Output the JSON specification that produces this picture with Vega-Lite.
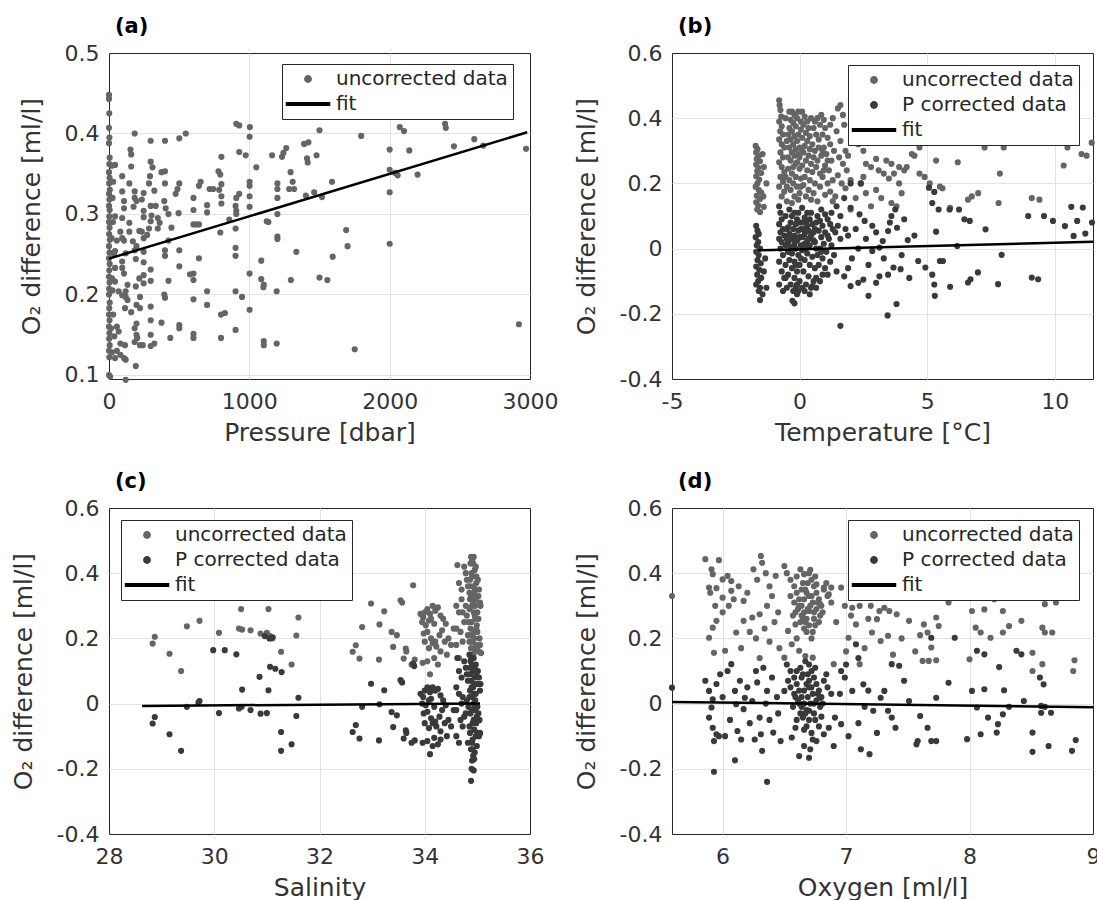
{
"$schema": "https://vega.github.io/schema/vega-lite/v6.json",
"padding": {"left": 10, "top": 15, "right": 0, "bottom": 0},
"config": {
 "font": "DejaVu Sans",
 "locale": {"number": {"decimal": ".", "thousands": "", "grouping": [3], "currency": ["", ""], "minus": "-"}},
 "view": {"stroke": "#262626", "strokeWidth": 1},
 "axis": {"labelFont": "DejaVu Sans", "labelFontSize": 22, "labelColor": "#333333", "titleFont": "DejaVu Sans", "titleFontSize": 25, "titleFontWeight": "normal", "titleColor": "#333333", "domain": false, "ticks": false, "grid": true, "gridWidth": 1, "labelPadding": 10, "labelFlush": false, "labelOverlap": false},
 "axisX": {"titlePadding": 8, "labelPadding": 12},
 "axisY": {"titlePadding": 20},
 "title": {"anchor": "start", "frame": "group", "font": "DejaVu Sans", "fontSize": 21, "fontWeight": "bold", "color": "#000000", "dx": 6, "offset": 5},
 "legend": {"orient": "none", "strokeColor": "#262626", "fillColor": "#ffffff", "padding": 5, "labelFont": "DejaVu Sans", "labelFontSize": 20, "labelColor": "#262626", "labelLimit": 0, "symbolSize": 40, "symbolOffset": 11, "labelOffset": 18, "rowPadding": 5, "cornerRadius": 0}
},
"resolve": {"scale": {"color": "independent", "shape": "independent"}, "legend": {"color": "independent", "shape": "independent"}},
"datasets": {
"a_u": [{"x":0,"y":0.448},{"x":0,"y":0.443},{"x":2,"y":0.425},{"x":0,"y":0.407},{"x":3,"y":0.395},{"x":0,"y":0.388},{"x":5,"y":0.37},{"x":2,"y":0.362},{"x":0,"y":0.352},{"x":4,"y":0.345},{"x":1,"y":0.338},{"x":6,"y":0.33},{"x":0,"y":0.325},{"x":3,"y":0.318},{"x":0,"y":0.31},{"x":5,"y":0.305},{"x":2,"y":0.297},{"x":0,"y":0.29},{"x":4,"y":0.283},{"x":1,"y":0.275},{"x":6,"y":0.268},{"x":0,"y":0.26},{"x":3,"y":0.252},{"x":0,"y":0.245},{"x":5,"y":0.238},{"x":2,"y":0.23},{"x":0,"y":0.222},{"x":4,"y":0.215},{"x":1,"y":0.207},{"x":0,"y":0.2},{"x":5,"y":0.19},{"x":2,"y":0.183},{"x":0,"y":0.175},{"x":4,"y":0.168},{"x":0,"y":0.16},{"x":3,"y":0.152},{"x":1,"y":0.145},{"x":5,"y":0.137},{"x":0,"y":0.13},{"x":2,"y":0.122},{"x":0,"y":0.1},{"x":8,"y":0.098},{"x":20,"y":0.36},{"x":25,"y":0.32},{"x":18,"y":0.27},{"x":22,"y":0.22},{"x":15,"y":0.158},{"x":20,"y":0.128},{"x":30,"y":0.34},{"x":28,"y":0.29},{"x":35,"y":0.25},{"x":25,"y":0.205},{"x":30,"y":0.175},
{"x":183,"y":0.4},{"x":297,"y":0.391},{"x":399,"y":0.391},{"x":501,"y":0.394},{"x":547,"y":0.4},{"x":907,"y":0.412},{"x":928,"y":0.41},{"x":1004,"y":0.408},{"x":1002,"y":0.396},{"x":1500,"y":0.404},{"x":1797,"y":0.397},{"x":2072,"y":0.408},{"x":2102,"y":0.403},{"x":2395,"y":0.412},{"x":2400,"y":0.407},{"x":2603,"y":0.393},{"x":2972,"y":0.381},{"x":2667,"y":0.385},{"x":2458,"y":0.384},{"x":2140,"y":0.379},{"x":2000,"y":0.38},{"x":2000,"y":0.355},{"x":2039,"y":0.351},{"x":2057,"y":0.348},{"x":2199,"y":0.349},{"x":2000,"y":0.327},{"x":2000,"y":0.263},{"x":2921,"y":0.163},{"x":1751,"y":0.132},{"x":1690,"y":0.28},{"x":1700,"y":0.26},{"x":1594,"y":0.247},{"x":1500,"y":0.221},{"x":1556,"y":0.218},{"x":1589,"y":0.34},{"x":1518,"y":0.321},{"x":1462,"y":0.327},{"x":1403,"y":0.323},{"x":1411,"y":0.369},{"x":1416,"y":0.364},{"x":1479,"y":0.373},{"x":1390,"y":0.387},{"x":1421,"y":0.389},{"x":1263,"y":0.382},{"x":1243,"y":0.376},{"x":1233,"y":0.371},{"x":1162,"y":0.373},{"x":1294,"y":0.352},{"x":1309,"y":0.34},{"x":1284,"y":0.331},{"x":1319,"y":0.331},{"x":1200,"y":0.338},{"x":1200,"y":0.331},{"x":1200,"y":0.32},{"x":1200,"y":0.3},{"x":1200,"y":0.272},{"x":1200,"y":0.269},{"x":1335,"y":0.253},{"x":1296,"y":0.218},{"x":1195,"y":0.204},{"x":1195,"y":0.139},{"x":1103,"y":0.142},{"x":1103,"y":0.137},{"x":1085,"y":0.242},{"x":1085,"y":0.219},{"x":1103,"y":0.212},{"x":1100,"y":0.209},{"x":1124,"y":0.291},{"x":1136,"y":0.29},{"x":1050,"y":0.358},{"x":1002,"y":0.34},{"x":1002,"y":0.335},{"x":1002,"y":0.322},{"x":1002,"y":0.309},{"x":1002,"y":0.226},{"x":1002,"y":0.181},{"x":948,"y":0.197},{"x":902,"y":0.204},{"x":902,"y":0.156},{"x":902,"y":0.258},{"x":902,"y":0.248},{"x":902,"y":0.282},{"x":928,"y":0.325},{"x":907,"y":0.32},{"x":902,"y":0.31},{"x":907,"y":0.304},{"x":907,"y":0.3},{"x":928,"y":0.377},{"x":974,"y":0.373},{"x":857,"y":0.293},{"x":801,"y":0.371},{"x":780,"y":0.353},{"x":793,"y":0.349},{"x":801,"y":0.337},{"x":785,"y":0.33},{"x":801,"y":0.322},{"x":801,"y":0.313},{"x":793,"y":0.277},{"x":798,"y":0.175},{"x":826,"y":0.177},{"x":798,"y":0.146},{"x":742,"y":0.331},{"x":717,"y":0.331},{"x":699,"y":0.311},{"x":699,"y":0.302},{"x":653,"y":0.34},{"x":641,"y":0.335},{"x":641,"y":0.287},{"x":623,"y":0.287},{"x":641,"y":0.245},{"x":699,"y":0.204},{"x":699,"y":0.187},{"x":602,"y":0.32},{"x":602,"y":0.305},{"x":602,"y":0.287},{"x":602,"y":0.226},{"x":602,"y":0.218},{"x":602,"y":0.194},{"x":602,"y":0.151},{"x":602,"y":0.146},{"x":577,"y":0.225},{"x":501,"y":0.338},{"x":488,"y":0.331},{"x":475,"y":0.325},{"x":496,"y":0.301},{"x":501,"y":0.255},{"x":501,"y":0.235},{"x":501,"y":0.162},{"x":501,"y":0.158},{"x":437,"y":0.146},{"x":445,"y":0.283},{"x":424,"y":0.3},{"x":399,"y":0.338},{"x":399,"y":0.353},{"x":374,"y":0.352},{"x":394,"y":0.316},{"x":404,"y":0.307},{"x":361,"y":0.289},{"x":348,"y":0.282},{"x":424,"y":0.267},{"x":399,"y":0.255},{"x":399,"y":0.248},{"x":424,"y":0.217},{"x":394,"y":0.2},{"x":399,"y":0.196},{"x":374,"y":0.165},{"x":348,"y":0.295},{"x":323,"y":0.329},{"x":333,"y":0.31},{"x":297,"y":0.31},{"x":297,"y":0.365},{"x":310,"y":0.358},{"x":292,"y":0.347},{"x":285,"y":0.338},{"x":303,"y":0.298},{"x":297,"y":0.291},{"x":285,"y":0.282},{"x":272,"y":0.274},{"x":297,"y":0.231},{"x":297,"y":0.217},{"x":297,"y":0.185},{"x":297,"y":0.168},{"x":297,"y":0.15},{"x":297,"y":0.136},{"x":323,"y":0.139},{"x":247,"y":0.304},{"x":247,"y":0.296},{"x":234,"y":0.278},{"x":247,"y":0.27},{"x":216,"y":0.279},{"x":196,"y":0.26},{"x":170,"y":0.266},{"x":183,"y":0.255},{"x":191,"y":0.244},{"x":247,"y":0.253},{"x":247,"y":0.24},{"x":247,"y":0.224},{"x":247,"y":0.214},{"x":216,"y":0.22},{"x":191,"y":0.21},{"x":221,"y":0.197},{"x":196,"y":0.187},{"x":221,"y":0.183},{"x":158,"y":0.178},{"x":132,"y":0.193},{"x":119,"y":0.197},{"x":119,"y":0.204},{"x":114,"y":0.183},{"x":196,"y":0.164},{"x":183,"y":0.158},{"x":196,"y":0.15},{"x":201,"y":0.146},{"x":183,"y":0.141},{"x":221,"y":0.137},{"x":241,"y":0.137},{"x":191,"y":0.111},{"x":119,"y":0.119},{"x":107,"y":0.121},{"x":81,"y":0.125},{"x":56,"y":0.13},{"x":81,"y":0.139},{"x":114,"y":0.137},{"x":43,"y":0.121},{"x":119,"y":0.094},{"x":158,"y":0.374},{"x":158,"y":0.359},{"x":153,"y":0.38},{"x":94,"y":0.347},{"x":43,"y":0.361},{"x":107,"y":0.316},{"x":94,"y":0.328},{"x":107,"y":0.307},{"x":43,"y":0.297},{"x":94,"y":0.295},{"x":81,"y":0.278},{"x":94,"y":0.27},{"x":56,"y":0.267},{"x":107,"y":0.267},{"x":43,"y":0.254},{"x":119,"y":0.251},{"x":94,"y":0.241},{"x":94,"y":0.233},{"x":107,"y":0.226},{"x":132,"y":0.212},{"x":69,"y":0.204},{"x":94,"y":0.199},{"x":43,"y":0.233},{"x":43,"y":0.216},{"x":56,"y":0.16},{"x":69,"y":0.154},{"x":38,"y":0.148},{"x":145,"y":0.338},{"x":183,"y":0.328},{"x":183,"y":0.32},{"x":175,"y":0.309},{"x":145,"y":0.289},{"x":145,"y":0.278},{"x":196,"y":0.316},{"x":234,"y":0.318},{"x":247,"y":0.326}],
"a_f": [{"x":0,"y":0.2445},{"x":2980,"y":0.4015}],
"b_u": [{"x":-1.72,"y":0.315},{"x":-1.65,"y":0.305},{"x":-1.7,"y":0.295},{"x":-1.6,"y":0.285},{"x":-1.68,"y":0.275},{"x":-1.55,"y":0.268},{"x":-1.7,"y":0.258},{"x":-1.62,"y":0.248},{"x":-1.66,"y":0.238},{"x":-1.5,"y":0.232},{"x":-1.7,"y":0.222},{"x":-1.58,"y":0.212},{"x":-1.65,"y":0.2},{"x":-1.72,"y":0.19},{"x":-1.6,"y":0.18},{"x":-1.5,"y":0.172},{"x":-1.68,"y":0.162},{"x":-1.55,"y":0.152},{"x":-1.7,"y":0.142},{"x":-1.62,"y":0.132},{"x":-1.4,"y":0.128},{"x":-1.66,"y":0.12},{"x":-1.55,"y":0.112},{"x":-1.45,"y":0.29},{"x":-1.4,"y":0.25},{"x":-1.42,"y":0.16},{"x":-1.3,"y":0.2},
{"x":-0.8,"y":0.455},{"x":-0.78,"y":0.44},{"x":-0.75,"y":0.425},{"x":-0.72,"y":0.405},{"x":-0.8,"y":0.39},{"x":-0.7,"y":0.375},{"x":-0.76,"y":0.36},{"x":-0.65,"y":0.35},{"x":-0.8,"y":0.335},{"x":-0.7,"y":0.32},{"x":-0.6,"y":0.31},{"x":-0.75,"y":0.295},{"x":-0.65,"y":0.28},{"x":-0.8,"y":0.265},{"x":-0.7,"y":0.25},{"x":-0.6,"y":0.235},{"x":-0.75,"y":0.22},{"x":-0.65,"y":0.205},{"x":-0.8,"y":0.19},{"x":-0.6,"y":0.175},{"x":-0.7,"y":0.16},{"x":-0.5,"y":0.145},
{"x":-0.3,"y":0.42},{"x":-0.2,"y":0.41},{"x":-0.35,"y":0.395},{"x":-0.1,"y":0.4},{"x":-0.25,"y":0.385},{"x":-0.4,"y":0.37},{"x":-0.15,"y":0.375},{"x":-0.3,"y":0.36},{"x":-0.45,"y":0.35},{"x":-0.2,"y":0.345},{"x":-0.05,"y":0.35},{"x":-0.35,"y":0.335},{"x":-0.1,"y":0.33},{"x":-0.25,"y":0.32},{"x":-0.4,"y":0.31},{"x":-0.15,"y":0.305},{"x":0,"y":0.31},{"x":-0.3,"y":0.295},{"x":-0.2,"y":0.285},{"x":-0.05,"y":0.29},{"x":-0.35,"y":0.27},{"x":-0.1,"y":0.265},{"x":-0.25,"y":0.25},{"x":-0.45,"y":0.245},{"x":0,"y":0.245},{"x":-0.3,"y":0.23},{"x":-0.15,"y":0.22},{"x":-0.4,"y":0.21},{"x":0.05,"y":0.215},{"x":-0.25,"y":0.2},{"x":-0.1,"y":0.19},{"x":-0.35,"y":0.18},{"x":0,"y":0.17},{"x":-0.2,"y":0.16},{"x":-0.05,"y":0.15},{"x":-0.3,"y":0.14},
{"x":0.1,"y":0.42},{"x":0.2,"y":0.405},{"x":0.3,"y":0.39},{"x":0.15,"y":0.38},{"x":0.35,"y":0.37},{"x":0.05,"y":0.365},{"x":0.25,"y":0.355},{"x":0.4,"y":0.345},{"x":0.1,"y":0.34},{"x":0.3,"y":0.33},{"x":0.5,"y":0.32},{"x":0.2,"y":0.315},{"x":0.4,"y":0.305},{"x":0.6,"y":0.3},{"x":0.15,"y":0.295},{"x":0.35,"y":0.285},{"x":0.55,"y":0.28},{"x":0.25,"y":0.27},{"x":0.45,"y":0.26},{"x":0.7,"y":0.27},{"x":0.1,"y":0.255},{"x":0.3,"y":0.24},{"x":0.5,"y":0.235},{"x":0.2,"y":0.22},{"x":0.4,"y":0.21},{"x":0.6,"y":0.2},{"x":0.15,"y":0.195},{"x":0.35,"y":0.18},{"x":0.55,"y":0.17},{"x":0.25,"y":0.16},{"x":0.45,"y":0.15},{"x":0.7,"y":0.145},
{"x":0.7,"y":0.4},{"x":0.85,"y":0.41},{"x":0.95,"y":0.395},{"x":0.8,"y":0.38},{"x":1,"y":0.37},{"x":0.9,"y":0.35},{"x":1.1,"y":0.34},{"x":0.75,"y":0.335},{"x":1.2,"y":0.32},{"x":0.95,"y":0.31},{"x":1.05,"y":0.29},{"x":0.85,"y":0.285},{"x":1.25,"y":0.27},{"x":1,"y":0.255},{"x":1.15,"y":0.24},{"x":0.9,"y":0.22},{"x":1.3,"y":0.21},{"x":1.1,"y":0.2},{"x":0.8,"y":0.19},{"x":1.2,"y":0.175},{"x":1,"y":0.165},{"x":1.4,"y":0.16},{"x":1.3,"y":0.145},{"x":1.5,"y":0.43},{"x":1.6,"y":0.44},{"x":1.7,"y":0.41},{"x":1.75,"y":0.38},{"x":1.45,"y":0.36},{"x":1.6,"y":0.33},{"x":1.8,"y":0.3},{"x":1.9,"y":0.285},{"x":1.55,"y":0.28},{"x":1.7,"y":0.26},{"x":1.85,"y":0.24},{"x":1.5,"y":0.225},{"x":2,"y":0.21},{"x":1.65,"y":0.2},{"x":1.8,"y":0.185},
{"x":-0.55,"y":0.4},{"x":-0.5,"y":0.33},{"x":-0.45,"y":0.28},{"x":-0.55,"y":0.22},{"x":-0.4,"y":0.42},{"x":-0.05,"y":0.42},{"x":0.05,"y":0.39},{"x":0.45,"y":0.4},{"x":0.55,"y":0.37},{"x":0.65,"y":0.35},{"x":0.6,"y":0.39},{"x":0.75,"y":0.31},{"x":0.9,"y":0.3},{"x":1.1,"y":0.27},{"x":0.65,"y":0.25},{"x":0.8,"y":0.23},{"x":0.95,"y":0.24},{"x":-0.15,"y":0.26},{"x":0,"y":0.28},{"x":0.1,"y":0.3},{"x":-0.5,"y":0.19},{"x":0.05,"y":0.19},{"x":1.2,"y":0.38},{"x":1.3,"y":0.4},{"x":1.35,"y":0.3},
{"x":2.1,"y":0.34},{"x":2.3,"y":0.32},{"x":2.5,"y":0.3},{"x":2.6,"y":0.26},{"x":2.8,"y":0.25},{"x":3,"y":0.275},{"x":3.1,"y":0.24},{"x":3.3,"y":0.23},{"x":3.5,"y":0.215},{"x":3.7,"y":0.23},{"x":3.4,"y":0.27},{"x":3.6,"y":0.26},{"x":3.9,"y":0.25},{"x":4.1,"y":0.24},{"x":4.2,"y":0.25},{"x":4.4,"y":0.29},{"x":4.5,"y":0.285},{"x":4.7,"y":0.31},{"x":4.7,"y":0.23},{"x":4.9,"y":0.22},{"x":5.1,"y":0.2},{"x":5.35,"y":0.27},{"x":5.5,"y":0.19},{"x":5.6,"y":0.185},{"x":2.4,"y":0.2},{"x":2.6,"y":0.17},{"x":2.2,"y":0.155},{"x":3,"y":0.18},{"x":3.2,"y":0.155},{"x":3.6,"y":0.14},{"x":3.8,"y":0.13},{"x":4,"y":0.17},{"x":2.8,"y":0.13},{"x":2,"y":0.12},{"x":2.5,"y":0.22},{"x":3.9,"y":0.2},
{"x":5.9,"y":0.125},{"x":6.2,"y":0.265},{"x":6.6,"y":0.15},{"x":6.75,"y":0.16},{"x":7,"y":0.17},{"x":7.25,"y":0.31},{"x":7.8,"y":0.14},{"x":7.85,"y":0.23},{"x":9.1,"y":0.155},{"x":9.4,"y":0.15},{"x":10.35,"y":0.255},{"x":10.5,"y":0.31},{"x":10.75,"y":0.34},{"x":11.05,"y":0.29},{"x":11.25,"y":0.285},{"x":11.45,"y":0.325},{"x":8.5,"y":0.33},{"x":9,"y":0.36},{"x":8,"y":0.31},{"x":6,"y":0.33}],
"b_c": [{"x":-1.7,"y":0.07},{"x":-1.65,"y":0.055},{"x":-1.6,"y":0.045},{"x":-1.72,"y":0.035},{"x":-1.62,"y":0.02},{"x":-1.68,"y":0.01},{"x":-1.55,"y":0},{"x":-1.7,"y":-0.01},{"x":-1.6,"y":-0.02},{"x":-1.65,"y":-0.035},{"x":-1.52,"y":-0.045},{"x":-1.7,"y":-0.055},{"x":-1.58,"y":-0.065},{"x":-1.66,"y":-0.08},{"x":-1.5,"y":-0.09},{"x":-1.62,"y":-0.1},{"x":-1.7,"y":-0.11},{"x":-1.55,"y":-0.12},{"x":-1.6,"y":-0.13},{"x":-1.45,"y":-0.14},{"x":-1.55,"y":-0.158},{"x":-1.4,"y":-0.07},{"x":-1.35,"y":-0.03},{"x":-1.3,"y":-0.12},
{"x":-0.8,"y":0.13},{"x":-0.75,"y":0.11},{"x":-0.7,"y":0.09},{"x":-0.8,"y":0.075},{"x":-0.65,"y":0.06},{"x":-0.75,"y":0.05},{"x":-0.6,"y":0.04},{"x":-0.8,"y":0.03},{"x":-0.7,"y":0.02},{"x":-0.55,"y":0.01},{"x":-0.75,"y":0},{"x":-0.65,"y":-0.02},{"x":-0.8,"y":-0.04},{"x":-0.55,"y":-0.05},{"x":-0.7,"y":-0.07},{"x":-0.6,"y":-0.09},{"x":-0.8,"y":-0.11},{"x":-0.5,"y":-0.12},{"x":-0.65,"y":-0.13},
{"x":-0.4,"y":0.12},{"x":-0.3,"y":0.1},{"x":-0.2,"y":0.11},{"x":-0.1,"y":0.09},{"x":-0.35,"y":0.08},{"x":-0.15,"y":0.075},{"x":0,"y":0.08},{"x":-0.45,"y":0.065},{"x":-0.25,"y":0.06},{"x":-0.05,"y":0.055},{"x":-0.4,"y":0.045},{"x":-0.2,"y":0.04},{"x":0,"y":0.035},{"x":-0.3,"y":0.03},{"x":-0.1,"y":0.025},{"x":-0.45,"y":0.02},{"x":-0.2,"y":0.015},{"x":0.05,"y":0.01},{"x":-0.35,"y":0.005},{"x":-0.15,"y":0},{"x":-0.3,"y":-0.015},{"x":-0.05,"y":-0.02},{"x":-0.4,"y":-0.035},{"x":-0.2,"y":-0.04},{"x":0,"y":-0.05},{"x":-0.3,"y":-0.06},{"x":-0.1,"y":-0.07},{"x":-0.45,"y":-0.08},{"x":-0.2,"y":-0.09},{"x":0,"y":-0.1},{"x":-0.35,"y":-0.11},{"x":-0.15,"y":-0.12},{"x":-0.25,"y":-0.13},{"x":-0.1,"y":-0.14},{"x":-0.28,"y":-0.16},{"x":-0.2,"y":-0.168},
{"x":0.1,"y":0.125},{"x":0.3,"y":0.11},{"x":0.2,"y":0.095},{"x":0.4,"y":0.09},{"x":0.1,"y":0.08},{"x":0.3,"y":0.07},{"x":0.5,"y":0.075},{"x":0.15,"y":0.06},{"x":0.35,"y":0.055},{"x":0.6,"y":0.06},{"x":0.2,"y":0.045},{"x":0.45,"y":0.04},{"x":0.1,"y":0.035},{"x":0.3,"y":0.025},{"x":0.55,"y":0.025},{"x":0.2,"y":0.015},{"x":0.4,"y":0.01},{"x":0.65,"y":0},{"x":0.1,"y":-0.005},{"x":0.3,"y":-0.015},{"x":0.5,"y":-0.025},{"x":0.2,"y":-0.035},{"x":0.4,"y":-0.05},{"x":0.6,"y":-0.06},{"x":0.15,"y":-0.07},{"x":0.35,"y":-0.085},{"x":0.55,"y":-0.1},{"x":0.25,"y":-0.11},{"x":0.45,"y":-0.12},{"x":0.2,"y":-0.13},{"x":0.5,"y":-0.115},
{"x":0.7,"y":0.1},{"x":0.85,"y":0.12},{"x":1,"y":0.105},{"x":0.8,"y":0.085},{"x":1.1,"y":0.09},{"x":0.9,"y":0.07},{"x":1.2,"y":0.075},{"x":0.75,"y":0.055},{"x":1,"y":0.05},{"x":1.3,"y":0.06},{"x":0.85,"y":0.035},{"x":1.15,"y":0.03},{"x":0.95,"y":0.015},{"x":1.25,"y":0.01},{"x":0.8,"y":0},{"x":1.05,"y":-0.01},{"x":1.35,"y":-0.02},{"x":0.9,"y":-0.03},{"x":1.2,"y":-0.04},{"x":0.75,"y":-0.05},{"x":1,"y":-0.06},{"x":0.9,"y":-0.08},{"x":0.65,"y":-0.09},{"x":-0.05,"y":-0.13},
{"x":-0.55,"y":0.1},{"x":-0.5,"y":0.06},{"x":-0.45,"y":-0.01},{"x":-0.55,"y":-0.09},{"x":-0.5,"y":0.03},{"x":-0.05,"y":0.11},{"x":0.05,"y":0.06},{"x":0.25,"y":0.08},{"x":0.45,"y":0.11},{"x":0.55,"y":0.05},{"x":0.65,"y":0.08},{"x":0.6,"y":0.02},{"x":0.7,"y":-0.02},{"x":0.85,"y":-0.01},{"x":1.1,"y":0.04},{"x":0.65,"y":-0.12},{"x":0.8,"y":-0.1},{"x":1.1,"y":-0.08},{"x":-0.15,"y":-0.05},{"x":0.05,"y":-0.03},{"x":0.25,"y":0},{"x":0.35,"y":0.03},{"x":-0.1,"y":-0.11},{"x":0.1,"y":-0.12},{"x":0.4,"y":-0.14},{"x":1.25,"y":0.11},{"x":1.4,"y":0.05},
{"x":1.45,"y":0.13},{"x":1.6,"y":0.1},{"x":1.75,"y":0.155},{"x":1.5,"y":0.07},{"x":1.8,"y":0.06},{"x":2,"y":0.125},{"x":1.9,"y":0.04},{"x":1.6,"y":0.03},{"x":1.45,"y":-0.07},{"x":1.75,"y":-0.085},{"x":1.9,"y":-0.06},{"x":2,"y":-0.115},{"x":2.05,"y":-0.03},{"x":1.6,"y":-0.237},{"x":2,"y":0.2},{"x":2.4,"y":0.2},
{"x":2.3,"y":0},{"x":2.35,"y":0.105},{"x":2.55,"y":0.085},{"x":2.85,"y":0.07},{"x":2.85,"y":-0.007},{"x":2.3,"y":-0.105},{"x":2.5,"y":-0.095},{"x":2.7,"y":-0.145},{"x":3,"y":-0.105},{"x":3.13,"y":-0.085},{"x":3.13,"y":0.003},{"x":3.26,"y":0.023},{"x":3.47,"y":0.054},{"x":3.54,"y":0.08},{"x":3.82,"y":0.064},{"x":3.75,"y":0.12},{"x":3.45,"y":-0.205},{"x":3.8,"y":-0.17},{"x":3.47,"y":-0.08},{"x":3.68,"y":-0.058},{"x":3.96,"y":-0.063},{"x":4.24,"y":0.026},{"x":4.5,"y":0.04},{"x":4.65,"y":-0.038},{"x":4.93,"y":-0.058},{"x":5.2,"y":-0.08},{"x":5.28,"y":-0.11},{"x":5.3,"y":-0.145},{"x":5.5,"y":-0.038},{"x":5.62,"y":-0.038},{"x":5.35,"y":0.052},{"x":5.45,"y":0.12},{"x":5.2,"y":0.14},{"x":5.07,"y":0.187},{"x":5.28,"y":0.174},{"x":2.6,"y":0.03},{"x":3,"y":0.05},{"x":2.2,"y":0.06},{"x":4,"y":-0.02},{"x":3.3,"y":-0.03},{"x":2.7,"y":-0.05},{"x":4.3,"y":-0.09},{"x":4.1,"y":0.09},{"x":3.6,"y":0.1},
{"x":5.9,"y":-0.117},{"x":5.88,"y":0.12},{"x":6.18,"y":0.008},{"x":6.46,"y":0.09},{"x":6.67,"y":0.085},{"x":6.6,"y":-0.104},{"x":6.7,"y":-0.094},{"x":6.99,"y":-0.073},{"x":7.29,"y":0.059},{"x":7.78,"y":-0.109},{"x":7.92,"y":-0.019},{"x":8.96,"y":0.1},{"x":9.1,"y":-0.089},{"x":9.35,"y":-0.094},{"x":9.58,"y":0.1},{"x":9.93,"y":0.085},{"x":10.4,"y":0.069},{"x":10.65,"y":0.128},{"x":10.74,"y":0.039},{"x":10.88,"y":0.085},{"x":11.1,"y":0.126},{"x":11.2,"y":0.046},{"x":11.46,"y":0.08},{"x":6.25,"y":0.12}],
"b_f": [{"x":-1.62,"y":-0.005},{"x":11.5,"y":0.021}],
"c_u": [{"x":28.83,"y":0.184},{"x":28.87,"y":0.205},{"x":29.15,"y":0.153},{"x":29.37,"y":0.1},{"x":29.48,"y":0.237},{"x":29.72,"y":0.254},{"x":30.09,"y":0.217},{"x":30.51,"y":0.29},{"x":30.47,"y":0.23},{"x":30.53,"y":0.227},{"x":30.69,"y":0.225},{"x":30.88,"y":0.215},{"x":31,"y":0.217},{"x":31.03,"y":0.29},{"x":31.05,"y":0.208},{"x":31.27,"y":0.159},{"x":31.47,"y":0.12},{"x":31.56,"y":0.209},{"x":31.6,"y":0.264},{"x":31.1,"y":0.2},
{"x":32.63,"y":0.159},{"x":32.69,"y":0.179},{"x":32.76,"y":0.138},{"x":32.81,"y":0.235},{"x":32.98,"y":0.307},{"x":33.13,"y":0.135},{"x":33.14,"y":0.243},{"x":33.23,"y":0.283},{"x":33.37,"y":0.22},{"x":33.47,"y":0.21},{"x":33.4,"y":0.174},{"x":33.54,"y":0.317},{"x":33.57,"y":0.31},{"x":33.6,"y":0.138},{"x":33.64,"y":0.169},{"x":33.65,"y":0.16},{"x":33.78,"y":0.363},{"x":33.81,"y":0.135},{"x":33.75,"y":0.12},
{"x":33.92,"y":0.275},{"x":33.97,"y":0.265},{"x":34,"y":0.28},{"x":34.05,"y":0.29},{"x":34.1,"y":0.275},{"x":34.15,"y":0.3},{"x":34.2,"y":0.285},{"x":34.25,"y":0.295},{"x":34.3,"y":0.27},{"x":33.95,"y":0.25},{"x":34.02,"y":0.24},{"x":34.08,"y":0.255},{"x":34.12,"y":0.26},{"x":34.18,"y":0.245},{"x":34.35,"y":0.26},{"x":34.4,"y":0.245},{"x":33.98,"y":0.215},{"x":34.05,"y":0.22},{"x":34.12,"y":0.2},{"x":34.2,"y":0.19},{"x":34.28,"y":0.21},{"x":34.33,"y":0.225},{"x":34.45,"y":0.2},{"x":34,"y":0.19},{"x":34.08,"y":0.17},{"x":34.15,"y":0.185},{"x":34.22,"y":0.175},{"x":34.3,"y":0.16},{"x":34.38,"y":0.19},{"x":34.05,"y":0.13},{"x":34.1,"y":0.09},{"x":34.18,"y":0.14},{"x":33.96,"y":0.125},{"x":34.25,"y":0.12},{"x":34.42,"y":0.15},{"x":34.5,"y":0.18},{"x":34.55,"y":0.23},
{"x":34.62,"y":0.425},{"x":34.65,"y":0.37},{"x":34.7,"y":0.35},{"x":34.6,"y":0.3},{"x":34.65,"y":0.28},{"x":34.7,"y":0.32},{"x":34.6,"y":0.23},{"x":34.68,"y":0.22},{"x":34.72,"y":0.19},{"x":34.6,"y":0.18},{"x":34.65,"y":0.14},{"x":34.75,"y":0.42},{"x":34.78,"y":0.4},{"x":34.8,"y":0.38},{"x":34.82,"y":0.36},{"x":34.85,"y":0.34},{"x":34.88,"y":0.45},{"x":34.9,"y":0.44},{"x":34.92,"y":0.43},{"x":34.95,"y":0.41},{"x":34.98,"y":0.39},{"x":34.86,"y":0.32},{"x":34.9,"y":0.3},{"x":34.93,"y":0.28},{"x":34.96,"y":0.26},{"x":34.99,"y":0.24},{"x":35.02,"y":0.33},{"x":35.05,"y":0.31},{"x":34.8,"y":0.27},{"x":34.83,"y":0.25},{"x":34.87,"y":0.23},{"x":34.91,"y":0.21},{"x":34.94,"y":0.2},{"x":34.97,"y":0.18},{"x":35,"y":0.22},{"x":35.03,"y":0.16},{"x":34.78,"y":0.3},{"x":34.82,"y":0.21},{"x":34.88,"y":0.17},{"x":34.92,"y":0.15},{"x":34.95,"y":0.35},{"x":34.98,"y":0.37},{"x":34.89,"y":0.4},{"x":34.93,"y":0.36},{"x":34.96,"y":0.3},{"x":35,"y":0.28},{"x":34.85,"y":0.19},{"x":34.75,"y":0.25},{"x":34.72,"y":0.28},{"x":35.04,"y":0.2},{"x":34.86,"y":0.38},{"x":34.91,"y":0.33},
{"x":34.87,"y":0.43},{"x":34.93,"y":0.45},{"x":34.97,"y":0.42},{"x":34.9,"y":0.39},{"x":35.01,"y":0.38},{"x":34.86,"y":0.36},{"x":34.94,"y":0.34},{"x":35.03,"y":0.35},{"x":34.88,"y":0.33},{"x":34.97,"y":0.32},{"x":34.92,"y":0.31},{"x":35.06,"y":0.3},{"x":34.85,"y":0.29},{"x":34.95,"y":0.27},{"x":35.02,"y":0.26},{"x":34.89,"y":0.25},{"x":34.98,"y":0.23},{"x":34.93,"y":0.22},{"x":35.05,"y":0.18},{"x":34.86,"y":0.21},{"x":34.9,"y":0.19},{"x":34.99,"y":0.17},{"x":34.95,"y":0.16},{"x":35.07,"y":0.155}],
"c_c": [{"x":28.83,"y":-0.061},{"x":28.87,"y":-0.041},{"x":29.15,"y":-0.094},{"x":29.37,"y":-0.145},{"x":29.48,"y":-0.01},{"x":29.72,"y":0.008},{"x":29.7,"y":0.003},{"x":29.98,"y":0.164},{"x":30.2,"y":0.164},{"x":30.09,"y":-0.029},{"x":30.42,"y":0.151},{"x":30.53,"y":0.043},{"x":30.47,"y":-0.015},{"x":30.52,"y":-0.01},{"x":30.69,"y":-0.02},{"x":30.86,"y":0.082},{"x":30.88,"y":-0.031},{"x":31,"y":-0.029},{"x":31.03,"y":0.041},{"x":30.96,"y":0.207},{"x":31.11,"y":0.203},{"x":31.06,"y":0.113},{"x":31.16,"y":0.107},{"x":31.28,"y":0.097},{"x":31.27,"y":-0.087},{"x":31.27,"y":-0.145},{"x":31.47,"y":-0.125},{"x":31.56,"y":-0.038},{"x":31.6,"y":0.018},{"x":31.05,"y":0.2},
{"x":32.63,"y":-0.087},{"x":32.69,"y":-0.066},{"x":32.76,"y":-0.107},{"x":32.81,"y":-0.01},{"x":32.98,"y":0.061},{"x":33.13,"y":-0.113},{"x":33.14,"y":-0.002},{"x":33.23,"y":0.041},{"x":33.37,"y":-0.026},{"x":33.4,"y":-0.072},{"x":33.47,"y":-0.036},{"x":33.54,"y":0.072},{"x":33.57,"y":0.065},{"x":33.6,"y":-0.107},{"x":33.64,"y":-0.082},{"x":33.65,"y":-0.09},{"x":33.78,"y":0.123},{"x":33.81,"y":-0.113},{"x":33.75,"y":-0.12},{"x":33.8,"y":0.115},
{"x":33.92,"y":0.03},{"x":33.97,"y":0.02},{"x":34,"y":0.04},{"x":34.05,"y":0.05},{"x":34.1,"y":0.035},{"x":34.15,"y":0.05},{"x":34.2,"y":0.04},{"x":34.25,"y":0.045},{"x":34.3,"y":0.025},{"x":33.95,"y":0},{"x":34.02,"y":-0.005},{"x":34.08,"y":0.01},{"x":34.12,"y":0.015},{"x":34.18,"y":-0.01},{"x":34.35,"y":0.01},{"x":34.4,"y":-0.005},{"x":33.98,"y":-0.03},{"x":34.05,"y":-0.025},{"x":34.12,"y":-0.045},{"x":34.2,"y":-0.055},{"x":34.28,"y":-0.04},{"x":34.33,"y":-0.02},{"x":34.45,"y":-0.05},{"x":34,"y":-0.06},{"x":34.08,"y":-0.075},{"x":34.15,"y":-0.06},{"x":34.22,"y":-0.07},{"x":34.3,"y":-0.085},{"x":34.38,"y":-0.06},{"x":34.05,"y":-0.115},{"x":34.1,"y":-0.155},{"x":34.18,"y":-0.105},{"x":33.96,"y":-0.12},{"x":34.25,"y":-0.125},{"x":34.42,"y":-0.1},{"x":34.5,"y":-0.07},{"x":34.55,"y":-0.02},{"x":34.15,"y":-0.13},{"x":34.3,"y":-0.11},
{"x":34.62,"y":0.14},{"x":34.65,"y":0.1},{"x":34.7,"y":0.08},{"x":34.6,"y":0.05},{"x":34.65,"y":0.03},{"x":34.7,"y":0},{"x":34.6,"y":-0.02},{"x":34.68,"y":-0.05},{"x":34.72,"y":-0.07},{"x":34.6,"y":-0.1},{"x":34.65,"y":-0.12},{"x":34.75,"y":0.13},{"x":34.78,"y":0.11},{"x":34.8,"y":0.09},{"x":34.82,"y":0.07},{"x":34.85,"y":0.15},{"x":34.88,"y":0.14},{"x":34.9,"y":0.12},{"x":34.92,"y":0.1},{"x":34.95,"y":0.08},{"x":34.98,"y":0.06},{"x":34.86,"y":0.04},{"x":34.9,"y":0.02},{"x":34.93,"y":0},{"x":34.96,"y":-0.02},{"x":34.99,"y":-0.04},{"x":35.02,"y":0.06},{"x":35.05,"y":0.04},{"x":34.8,"y":0.01},{"x":34.83,"y":-0.01},{"x":34.87,"y":-0.03},{"x":34.91,"y":-0.06},{"x":34.94,"y":-0.08},{"x":34.97,"y":-0.1},{"x":35,"y":-0.09},{"x":35.03,"y":-0.1},{"x":34.78,"y":-0.03},{"x":34.82,"y":-0.12},{"x":34.88,"y":-0.14},{"x":34.92,"y":-0.16},{"x":34.9,"y":-0.175},{"x":34.93,"y":-0.205},{"x":34.88,"y":-0.237},{"x":34.95,"y":0.11},{"x":34.98,"y":0.09},{"x":34.89,"y":0.05},{"x":34.93,"y":0.03},{"x":34.96,"y":0.01},{"x":35,"y":-0.01},{"x":34.85,"y":-0.07},{"x":34.75,"y":-0.04},{"x":34.72,"y":0.02},{"x":35.04,"y":-0.05},{"x":34.86,"y":0.09},{"x":34.91,"y":-0.11},
{"x":34.87,"y":0.13},{"x":34.93,"y":0.14},{"x":34.97,"y":0.12},{"x":35.01,"y":0.1},{"x":34.86,"y":0.11},{"x":34.94,"y":0.06},{"x":35.03,"y":0.08},{"x":34.88,"y":0.07},{"x":34.97,"y":0.03},{"x":34.92,"y":0.05},{"x":35.06,"y":0.06},{"x":34.85,"y":0.02},{"x":34.95,"y":-0.01},{"x":35.02,"y":-0.03},{"x":34.89,"y":-0.02},{"x":34.98,"y":-0.06},{"x":34.93,"y":-0.05},{"x":35.05,"y":-0.09},{"x":34.86,"y":-0.09},{"x":34.9,"y":-0.12},{"x":34.99,"y":-0.13},{"x":34.95,"y":-0.15},{"x":35.04,"y":-0.095},{"x":34.91,"y":-0.14},{"x":34.89,"y":-0.2},{"x":34.94,"y":-0.17}],
"c_f": [{"x":28.63,"y":-0.007},{"x":35.05,"y":0}],
"d_u": [{"x":5.59,"y":0.33},{"x":5.86,"y":0.443},{"x":5.97,"y":0.44},{"x":5.91,"y":0.412},{"x":5.92,"y":0.397},{"x":5.89,"y":0.356},{"x":5.95,"y":0.354},{"x":6,"y":0.381},{"x":6.04,"y":0.392},{"x":6.07,"y":0.376},{"x":6.07,"y":0.346},{"x":6,"y":0.325},{"x":6.09,"y":0.32},{"x":6.17,"y":0.315},{"x":5.95,"y":0.254},{"x":5.92,"y":0.233},{"x":5.89,"y":0.202},{"x":5.93,"y":0.156},{"x":6.02,"y":0.162},{"x":6,"y":0.28},{"x":6.11,"y":0.218},{"x":6.17,"y":0.254},{"x":6.24,"y":0.264},{"x":6.3,"y":0.274},{"x":6.31,"y":0.453},{"x":6.32,"y":0.432},{"x":6.25,"y":0.412},{"x":6.5,"y":0.422},{"x":6.43,"y":0.392},{"x":5.9,"y":0.34},{"x":5.94,"y":0.3},{"x":6.05,"y":0.3},{"x":6.13,"y":0.36},{"x":6.2,"y":0.34},{"x":6.28,"y":0.38},{"x":6.35,"y":0.4},{"x":6.38,"y":0.36},{"x":6.4,"y":0.33},{"x":6.36,"y":0.3},{"x":6.45,"y":0.28},{"x":6.42,"y":0.25},{"x":6.34,"y":0.23},{"x":6.27,"y":0.2},{"x":6.38,"y":0.19},{"x":6.46,"y":0.17},{"x":6.3,"y":0.14},{"x":6.15,"y":0.17},{"x":6.22,"y":0.22},
{"x":6.52,"y":0.4},{"x":6.55,"y":0.38},{"x":6.58,"y":0.36},{"x":6.6,"y":0.34},{"x":6.62,"y":0.32},{"x":6.64,"y":0.3},{"x":6.66,"y":0.28},{"x":6.68,"y":0.26},{"x":6.7,"y":0.4},{"x":6.72,"y":0.38},{"x":6.74,"y":0.36},{"x":6.76,"y":0.34},{"x":6.78,"y":0.32},{"x":6.8,"y":0.3},{"x":6.55,"y":0.33},{"x":6.58,"y":0.31},{"x":6.61,"y":0.29},{"x":6.64,"y":0.27},{"x":6.67,"y":0.25},{"x":6.7,"y":0.33},{"x":6.73,"y":0.31},{"x":6.76,"y":0.29},{"x":6.79,"y":0.27},{"x":6.82,"y":0.35},{"x":6.85,"y":0.33},{"x":6.63,"y":0.412},{"x":6.66,"y":0.397},{"x":6.76,"y":0.366},{"x":6.82,"y":0.356},{"x":6.86,"y":0.335},{"x":6.79,"y":0.305},{"x":6.7,"y":0.284},{"x":6.65,"y":0.264},{"x":6.59,"y":0.243},{"x":6.53,"y":0.223},{"x":6.56,"y":0.182},{"x":6.5,"y":0.141},{"x":6.62,"y":0.162},{"x":6.67,"y":0.146},{"x":6.73,"y":0.141},{"x":6.6,"y":0.2},{"x":6.68,"y":0.22},{"x":6.75,"y":0.24},{"x":6.72,"y":0.2},{"x":6.64,"y":0.35},{"x":6.69,"y":0.37},{"x":6.57,"y":0.27},{"x":6.71,"y":0.3},{"x":6.66,"y":0.32},{"x":6.74,"y":0.26},
{"x":6.6,"y":0.39},{"x":6.65,"y":0.37},{"x":6.68,"y":0.34},{"x":6.72,"y":0.33},{"x":6.77,"y":0.31},{"x":6.62,"y":0.3},{"x":6.69,"y":0.29},{"x":6.74,"y":0.28},{"x":6.81,"y":0.28},{"x":6.63,"y":0.25},{"x":6.7,"y":0.24},{"x":6.78,"y":0.25},{"x":6.66,"y":0.23},{"x":6.73,"y":0.22},{"x":6.84,"y":0.37},{"x":6.88,"y":0.31},{"x":6.59,"y":0.28},{"x":6.67,"y":0.35},{"x":6.75,"y":0.39},{"x":6.71,"y":0.41},
{"x":6.88,"y":0.356},{"x":6.96,"y":0.356},{"x":6.99,"y":0.3},{"x":7.05,"y":0.294},{"x":7.11,"y":0.3},{"x":7.2,"y":0.3},{"x":7.27,"y":0.284},{"x":7.31,"y":0.294},{"x":7.35,"y":0.284},{"x":7.41,"y":0.274},{"x":7.51,"y":0.254},{"x":7.63,"y":0.243},{"x":7.66,"y":0.218},{"x":7.73,"y":0.264},{"x":7.75,"y":0.238},{"x":7.69,"y":0.172},{"x":7.67,"y":0.131},{"x":7.62,"y":0.131},{"x":7.73,"y":0.133},{"x":8.02,"y":0.284},{"x":8.12,"y":0.289},{"x":8.27,"y":0.284},{"x":8.05,"y":0.233},{"x":8.09,"y":0.218},{"x":8.17,"y":0.202},{"x":8.27,"y":0.218},{"x":8.32,"y":0.238},{"x":8.42,"y":0.254},{"x":8.59,"y":0.233},{"x":8.61,"y":0.218},{"x":8.67,"y":0.218},{"x":8.51,"y":0.156},{"x":8.59,"y":0.121},{"x":8.51,"y":0.1},{"x":8.84,"y":0.1},{"x":8.85,"y":0.133},{"x":8,"y":0.136},{"x":7.83,"y":0.31},{"x":8.61,"y":0.305},{"x":7.02,"y":0.202},{"x":7.08,"y":0.243},{"x":7.21,"y":0.218},{"x":7.25,"y":0.259},{"x":7.28,"y":0.192},{"x":7.34,"y":0.208},{"x":7.11,"y":0.121},{"x":6.9,"y":0.121},{"x":7,"y":0.16},{"x":7.15,"y":0.17},{"x":7.38,"y":0.15},{"x":6.92,"y":0.25},{"x":7.04,"y":0.27},{"x":7.18,"y":0.26},{"x":7.45,"y":0.2},{"x":7.56,"y":0.16},{"x":7.6,"y":0.21},{"x":7.9,"y":0.33},{"x":8.2,"y":0.32},{"x":8.4,"y":0.33},{"x":8.7,"y":0.31}],
"d_c": [{"x":5.59,"y":0.049},{"x":5.86,"y":0.07},{"x":5.89,"y":0.039},{"x":5.92,"y":0.013},{"x":5.91,"y":-0.012},{"x":5.89,"y":-0.043},{"x":5.92,"y":-0.074},{"x":5.95,"y":-0.094},{"x":5.93,"y":-0.115},{"x":5.93,"y":-0.209},{"x":5.98,"y":0.09},{"x":6.04,"y":0.1},{"x":6.07,"y":0.121},{"x":6.1,"y":0.039},{"x":6.11,"y":-0.002},{"x":6.1,"y":-0.174},{"x":6.12,"y":-0.084},{"x":6.17,"y":-0.017},{"x":6.18,"y":0.018},{"x":6.24,"y":0.008},{"x":6.27,"y":0.1},{"x":6.33,"y":0.11},{"x":6.36,"y":0.039},{"x":6.3,"y":-0.043},{"x":6.31,"y":-0.094},{"x":6.32,"y":-0.145},{"x":6.36,"y":-0.24},{"x":6.41,"y":-0.089},{"x":6.47,"y":-0.115},{"x":6.5,"y":0.039},{"x":5.95,"y":0.06},{"x":6,"y":0.02},{"x":6.02,"y":-0.1},{"x":6.06,"y":-0.05},{"x":6.14,"y":0.07},{"x":6.2,"y":0.05},{"x":6.22,"y":-0.06},{"x":6.26,"y":-0.11},{"x":6.28,"y":0.065},{"x":6.35,"y":0},{"x":6.38,"y":-0.05},{"x":6.4,"y":0.08},{"x":6.44,"y":0.02},{"x":6.45,"y":-0.03},{"x":5.97,"y":-0.1},{"x":6.15,"y":-0.11},
{"x":6.52,"y":0.12},{"x":6.55,"y":0.1},{"x":6.58,"y":0.08},{"x":6.6,"y":0.06},{"x":6.62,"y":0.04},{"x":6.64,"y":0.02},{"x":6.66,"y":0},{"x":6.68,"y":-0.02},{"x":6.7,"y":0.12},{"x":6.72,"y":0.1},{"x":6.74,"y":0.08},{"x":6.76,"y":0.06},{"x":6.78,"y":0.04},{"x":6.8,"y":0.02},{"x":6.55,"y":0.05},{"x":6.58,"y":0.03},{"x":6.61,"y":0.01},{"x":6.64,"y":-0.01},{"x":6.67,"y":-0.03},{"x":6.7,"y":0.05},{"x":6.73,"y":0.03},{"x":6.76,"y":0.01},{"x":6.79,"y":-0.01},{"x":6.82,"y":0.07},{"x":6.85,"y":0.05},{"x":6.63,"y":0.11},{"x":6.7,"y":0.07},{"x":6.79,"y":0.018},{"x":6.7,"y":-0.022},{"x":6.65,"y":-0.043},{"x":6.59,"y":-0.074},{"x":6.56,"y":-0.104},{"x":6.62,"y":-0.161},{"x":6.7,"y":-0.166},{"x":6.66,"y":-0.13},{"x":6.76,"y":-0.115},{"x":6.82,"y":-0.094},{"x":6.86,"y":-0.074},{"x":6.6,"y":-0.05},{"x":6.68,"y":-0.07},{"x":6.75,"y":-0.05},{"x":6.72,"y":-0.09},{"x":6.64,"y":0.08},{"x":6.69,"y":0.09},{"x":6.57,"y":-0.01},{"x":6.71,"y":0},{"x":6.66,"y":0.04},{"x":6.74,"y":-0.03},{"x":6.53,"y":0.07},{"x":6.8,"y":-0.04},
{"x":6.6,"y":0.1},{"x":6.65,"y":0.09},{"x":6.68,"y":0.06},{"x":6.72,"y":0.05},{"x":6.77,"y":0.03},{"x":6.62,"y":0},{"x":6.69,"y":0.02},{"x":6.74,"y":0},{"x":6.81,"y":0},{"x":6.63,"y":-0.03},{"x":6.7,"y":-0.05},{"x":6.78,"y":-0.07},{"x":6.66,"y":-0.08},{"x":6.73,"y":-0.11},{"x":6.84,"y":0.09},{"x":6.88,"y":0.03},{"x":6.59,"y":0.02},{"x":6.67,"y":0.13},{"x":6.75,"y":0.11},{"x":6.71,"y":-0.14},
{"x":6.91,"y":-0.043},{"x":6.96,"y":-0.063},{"x":7.05,"y":0.039},{"x":6.99,"y":0.08},{"x":6.96,"y":0.1},{"x":7,"y":0.12},{"x":7.08,"y":0.182},{"x":7.1,"y":0.14},{"x":7.14,"y":0.059},{"x":7.18,"y":0.04},{"x":7.15,"y":-0.01},{"x":7.22,"y":-0.022},{"x":7.28,"y":0.018},{"x":7.31,"y":0.039},{"x":7.34,"y":-0.022},{"x":7.37,"y":-0.043},{"x":7.4,"y":-0.074},{"x":7.37,"y":0.121},{"x":7.43,"y":0.116},{"x":7.47,"y":0.07},{"x":7.51,"y":0.008},{"x":7.6,"y":-0.038},{"x":7.66,"y":-0.074},{"x":7.57,"y":-0.125},{"x":7.58,"y":-0.115},{"x":7.69,"y":-0.115},{"x":7.73,"y":-0.115},{"x":7.73,"y":0.018},{"x":7.69,"y":0.202},{"x":7.88,"y":0.202},{"x":7.83,"y":0.064},{"x":7.98,"y":-0.109},{"x":8.02,"y":0.039},{"x":8.06,"y":-0.012},{"x":8.12,"y":0.044},{"x":8.09,"y":-0.094},{"x":8.06,"y":0.162},{"x":8.12,"y":0.151},{"x":8.15,"y":-0.043},{"x":8.22,"y":-0.089},{"x":8.23,"y":-0.063},{"x":8.27,"y":-0.033},{"x":8.28,"y":0.041},{"x":8.32,"y":-0.01},{"x":8.24,"y":0.112},{"x":8.38,"y":0.162},{"x":8.42,"y":0.151},{"x":8.44,"y":0.008},{"x":8.51,"y":-0.089},{"x":8.51,"y":-0.148},{"x":8.57,"y":0.08},{"x":8.6,"y":0.059},{"x":8.58,"y":-0.007},{"x":8.58,"y":-0.028},{"x":8.61,"y":-0.01},{"x":8.66,"y":-0.028},{"x":8.64,"y":-0.13},{"x":8.83,"y":-0.145},{"x":8.86,"y":-0.112},{"x":6.9,"y":-0.13},{"x":7.02,"y":-0.1},{"x":7.12,"y":-0.14},{"x":7.19,"y":-0.155},{"x":7.25,"y":-0.09},{"x":6.95,"y":0.03},{"x":7.1,"y":-0.06}],
"d_f": [{"x":5.59,"y":0.005},{"x":9,"y":-0.011}]
},
"columns": 2,
"bounds": "flush",
"spacing": {"row": 129, "column": 142},
"concat": [
{
 "width": 421, "height": 326,
 "title": {"text": "(a)"},
 "encoding": {
  "x": {"field": "x", "type": "quantitative", "scale": {"domain": [0, 3000], "nice": false, "zero": false}, "axis": {"title": "Pressure [dbar]", "values": [0, 1000, 2000, 3000], "format": "d", "gridColor": {"condition": {"test": "datum.value == 0 || datum.value == 3000", "value": "transparent"}, "value": "#e3e3e3"}}},
  "y": {"field": "y", "type": "quantitative", "scale": {"domain": [0.095, 0.5], "nice": false, "zero": false}, "axis": {"title": "O₂ difference [ml/l]", "values": [0.1, 0.2, 0.3, 0.4, 0.5], "labelExpr": "datum.value == 0 ? '0' : format(datum.value, '.1f')", "gridColor": {"condition": {"test": "datum.value == 0.5", "value": "transparent"}, "value": "#e3e3e3"}}}
 },
 "layer": [
  {"data": {"name": "a_u"}, "mark": {"type": "point", "filled": true, "size": 38, "opacity": 1},
   "encoding": {"color": {"datum": "uncorrected data", "type": "nominal", "scale": {"domain": ["uncorrected data", "fit"], "range": ["#656565", "#000000"]},
     "legend": {"title": null, "legendX": 173, "legendY": 11}},
    "shape": {"datum": "uncorrected data", "type": "nominal", "scale": {"domain": ["uncorrected data", "fit"], "range": ["circle", "M-6.8,-0.4H6.8V0.4H-6.8Z"]},
     "legend": {"title": null, "legendX": 173, "legendY": 11}}}},
  {"data": {"name": "a_f"}, "mark": {"type": "line", "strokeWidth": 2.5}, "encoding": {"color": {"datum": "fit", "type": "nominal"}}}
 ]
},
{
 "width": 421, "height": 326,
 "title": {"text": "(b)"},
 "encoding": {
  "x": {"field": "x", "type": "quantitative", "scale": {"domain": [-5, 11.5], "nice": false, "zero": false}, "axis": {"title": "Temperature [°C]", "values": [-5, 0, 5, 10], "format": "d", "gridColor": {"condition": {"test": "datum.value == -5", "value": "transparent"}, "value": "#e3e3e3"}}},
  "y": {"field": "y", "type": "quantitative", "scale": {"domain": [-0.4, 0.6], "nice": false, "zero": false}, "axis": {"title": "O₂ difference [ml/l]", "values": [-0.4, -0.2, 0, 0.2, 0.4, 0.6], "labelExpr": "datum.value == 0 ? '0' : format(datum.value, '.1f')", "gridColor": {"condition": {"test": "datum.value == 0.6 || datum.value == -0.4", "value": "transparent"}, "value": "#e3e3e3"}}}
 },
 "layer": [
  {"data": {"name": "b_u"}, "mark": {"type": "point", "filled": true, "size": 38, "opacity": 1},
   "encoding": {"color": {"datum": "uncorrected data", "type": "nominal", "scale": {"domain": ["uncorrected data", "P corrected data", "fit"], "range": ["#656565", "#3a3a3a", "#000000"]},
     "legend": {"title": null, "legendX": 176, "legendY": 12}},
    "shape": {"datum": "uncorrected data", "type": "nominal", "scale": {"domain": ["uncorrected data", "P corrected data", "fit"], "range": ["circle", "circle", "M-6.8,-0.4H6.8V0.4H-6.8Z"]},
     "legend": {"title": null, "legendX": 176, "legendY": 12}}}},
  {"data": {"name": "b_c"}, "mark": {"type": "point", "filled": true, "size": 38, "opacity": 1}, "encoding": {"color": {"datum": "P corrected data", "type": "nominal"}, "shape": {"datum": "P corrected data", "type": "nominal"}}},
  {"data": {"name": "b_f"}, "mark": {"type": "line", "strokeWidth": 2.5}, "encoding": {"color": {"datum": "fit", "type": "nominal"}}}
 ]
},
{
 "width": 421, "height": 326,
 "title": {"text": "(c)"},
 "encoding": {
  "x": {"field": "x", "type": "quantitative", "scale": {"domain": [28, 36], "nice": false, "zero": false}, "axis": {"title": "Salinity", "values": [28, 30, 32, 34, 36], "format": "d", "gridColor": {"condition": {"test": "datum.value == 28 || datum.value == 36", "value": "transparent"}, "value": "#e3e3e3"}}},
  "y": {"field": "y", "type": "quantitative", "scale": {"domain": [-0.4, 0.6], "nice": false, "zero": false}, "axis": {"title": "O₂ difference [ml/l]", "values": [-0.4, -0.2, 0, 0.2, 0.4, 0.6], "labelExpr": "datum.value == 0 ? '0' : format(datum.value, '.1f')", "gridColor": {"condition": {"test": "datum.value == 0.6 || datum.value == -0.4", "value": "transparent"}, "value": "#e3e3e3"}}}
 },
 "layer": [
  {"data": {"name": "c_u"}, "mark": {"type": "point", "filled": true, "size": 38, "opacity": 1},
   "encoding": {"color": {"datum": "uncorrected data", "type": "nominal", "scale": {"domain": ["uncorrected data", "P corrected data", "fit"], "range": ["#656565", "#3a3a3a", "#000000"]},
     "legend": {"title": null, "legendX": 12, "legendY": 12}},
    "shape": {"datum": "uncorrected data", "type": "nominal", "scale": {"domain": ["uncorrected data", "P corrected data", "fit"], "range": ["circle", "circle", "M-6.8,-0.4H6.8V0.4H-6.8Z"]},
     "legend": {"title": null, "legendX": 12, "legendY": 12}}}},
  {"data": {"name": "c_c"}, "mark": {"type": "point", "filled": true, "size": 38, "opacity": 1}, "encoding": {"color": {"datum": "P corrected data", "type": "nominal"}, "shape": {"datum": "P corrected data", "type": "nominal"}}},
  {"data": {"name": "c_f"}, "mark": {"type": "line", "strokeWidth": 2.5}, "encoding": {"color": {"datum": "fit", "type": "nominal"}}}
 ]
},
{
 "width": 421, "height": 326,
 "title": {"text": "(d)"},
 "encoding": {
  "x": {"field": "x", "type": "quantitative", "scale": {"domain": [5.59, 9], "nice": false, "zero": false}, "axis": {"title": "Oxygen [ml/l]", "values": [6, 7, 8, 9], "format": "d", "gridColor": {"condition": {"test": "datum.value == 9", "value": "transparent"}, "value": "#e3e3e3"}}},
  "y": {"field": "y", "type": "quantitative", "scale": {"domain": [-0.4, 0.6], "nice": false, "zero": false}, "axis": {"title": "O₂ difference [ml/l]", "values": [-0.4, -0.2, 0, 0.2, 0.4, 0.6], "labelExpr": "datum.value == 0 ? '0' : format(datum.value, '.1f')", "gridColor": {"condition": {"test": "datum.value == 0.6 || datum.value == -0.4", "value": "transparent"}, "value": "#e3e3e3"}}}
 },
 "layer": [
  {"data": {"name": "d_u"}, "mark": {"type": "point", "filled": true, "size": 38, "opacity": 1},
   "encoding": {"color": {"datum": "uncorrected data", "type": "nominal", "scale": {"domain": ["uncorrected data", "P corrected data", "fit"], "range": ["#656565", "#3a3a3a", "#000000"]},
     "legend": {"title": null, "legendX": 176, "legendY": 12}},
    "shape": {"datum": "uncorrected data", "type": "nominal", "scale": {"domain": ["uncorrected data", "P corrected data", "fit"], "range": ["circle", "circle", "M-6.8,-0.4H6.8V0.4H-6.8Z"]},
     "legend": {"title": null, "legendX": 176, "legendY": 12}}}},
  {"data": {"name": "d_c"}, "mark": {"type": "point", "filled": true, "size": 38, "opacity": 1}, "encoding": {"color": {"datum": "P corrected data", "type": "nominal"}, "shape": {"datum": "P corrected data", "type": "nominal"}}},
  {"data": {"name": "d_f"}, "mark": {"type": "line", "strokeWidth": 2.5}, "encoding": {"color": {"datum": "fit", "type": "nominal"}}}
 ]
}
]
}
